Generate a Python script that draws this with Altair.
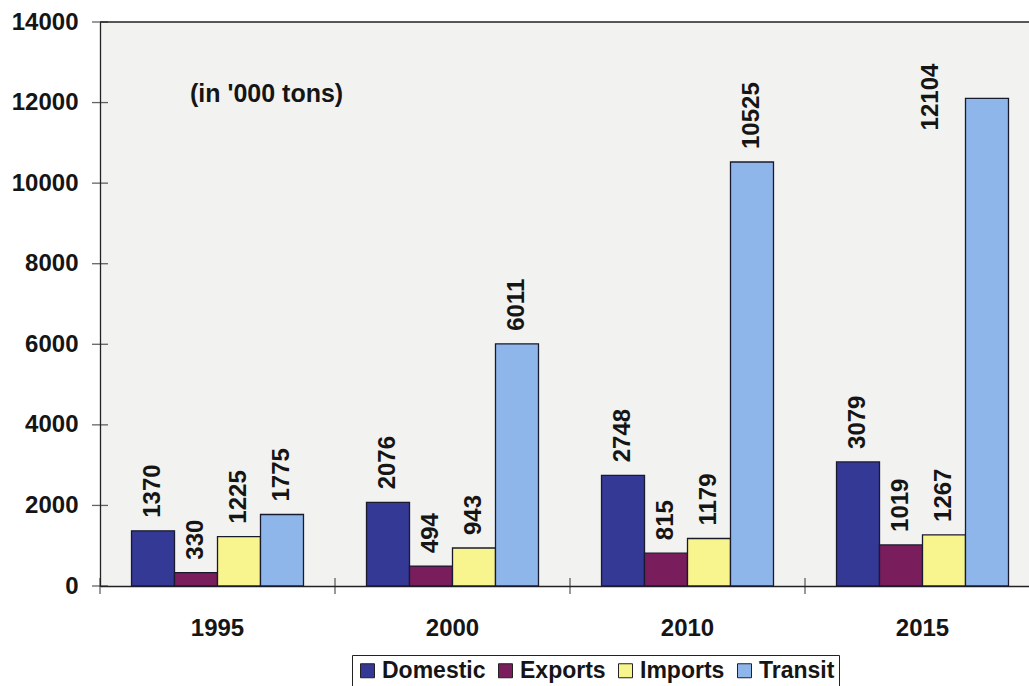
import altair as alt
import pandas as pd

years = ["1995", "2000", "2010", "2015"]
series = ["Domestic", "Exports", "Imports", "Transit"]
domestic = [1370, 2076, 2748, 3079]
exports = [330, 494, 815, 1019]
imports = [1225, 943, 1179, 1267]
transit = [1775, 6011, 10525, 12104]
colors = ["#353996", "#7a1d5c", "#f8f48e", "#8fb6ea"]
y_ticks = [0, 2000, 4000, 6000, 8000, 10000, 12000, 14000]

rows = []
for name, vals in zip(series, [domestic, exports, imports, transit]):
    for y, v in zip(years, vals):
        rows.append({"Year": y, "Series": name, "Value": v})
df = pd.DataFrame(rows)
tick_df = pd.DataFrame({"Tick": y_ticks})
year_df = pd.DataFrame({"Year": years})
note_df = pd.DataFrame({"Note": ["(in '000 tons)"]})

FONT = "Liberation Sans"
INK = "#151515"

xscale = alt.Scale(domain=years, range=[0, 940], paddingInner=0, paddingOuter=0)
x = alt.X("Year:N", sort=years, title=None, scale=xscale,
          axis=alt.Axis(labelAngle=0, ticks=False, labelPadding=30, domain=True,
                        domainColor="#222", domainWidth=1.3, labelFont=FONT,
                        labelFontSize=24, labelFontWeight="bold", labelColor=INK))
yscale = alt.Scale(domain=[0, 14000], nice=False)
y = alt.Y("Value:Q", title=None, scale=yscale,
          axis=alt.Axis(values=y_ticks, format="d", grid=False, ticks=False,
                        domainColor="#222", domainWidth=1.3, labelPadding=22,
                        labelFont=FONT, labelFontSize=24, labelFontWeight="bold",
                        labelColor=INK))
xo = alt.XOffset("Series:N", sort=series,
                 scale=alt.Scale(paddingInner=0, paddingOuter=0.733))

bars = alt.Chart(df).mark_bar(stroke="#1a1a2e", strokeWidth=1.3).encode(
    x=x, y=y, xOffset=xo,
    color=alt.Color("Series:N", sort=series,
                    scale=alt.Scale(domain=series, range=colors),
                    legend=alt.Legend(title=None, orient="none", direction="horizontal",
                                      legendX=252, legendY=633, symbolType="square",
                                      symbolSize=196, symbolStrokeColor="#222",
                                      symbolStrokeWidth=1, labelFont=FONT,
                                      labelFontSize=23, labelFontWeight="bold",
                                      labelColor=INK, strokeColor="#222",
                                      padding=4, columnPadding=8, symbolOffset=0,
                                      labelOffset=3, fillColor="white")),
)

is_special = (alt.datum.Year == "2015") & (alt.datum.Series == "Transit")

labels = alt.Chart(df).transform_filter(~is_special).mark_text(
    angle=270, align="left", baseline="middle", dx=13,
    font=FONT, fontSize=24, fontWeight="bold", color=INK).encode(
    x=x, y=y, xOffset=xo, text="Value:Q")

label_special = alt.Chart(df).transform_filter(is_special).mark_text(
    angle=270, align="left", baseline="middle", dx=-32, dy=-56,
    font=FONT, fontSize=24, fontWeight="bold", color=INK).encode(
    x=x, y=y, xOffset=xo, text="Value:Q")

yticks = alt.Chart(tick_df).mark_tick(orient="horizontal", size=16, thickness=1.3,
                                      color="#222").encode(
    y=alt.Y("Tick:Q", scale=yscale), x=alt.value(0))

xticks = alt.Chart(year_df).mark_tick(orient="vertical", size=16, thickness=1.3,
                                      color="#222").encode(
    x=alt.X("Year:N", sort=years, scale=xscale, bandPosition=0), y=alt.value(564))

top_line = alt.Chart(note_df).mark_rule(color="#222", strokeWidth=1.3).encode(
    x=alt.value(0), x2=alt.value(929), y=alt.value(0))

note = alt.Chart(note_df).mark_text(align="left", baseline="middle",
                                    font=FONT, fontSize=25, fontWeight="bold",
                                    color=INK).encode(
    x=alt.value(90), y=alt.value(72), text="Note:N")

chart = alt.layer(bars, labels, label_special, yticks, xticks, top_line, note).properties(
    width=929, height=564,
    autosize=alt.AutoSizeParams(type="none"),
    padding={"left": 100, "top": 22, "right": 0, "bottom": 100},
    background="white",
).configure_view(fill="#f2f2f0", stroke=None)

chart.save("out.html", embed_options={"renderer": "svg", "actions": False})
